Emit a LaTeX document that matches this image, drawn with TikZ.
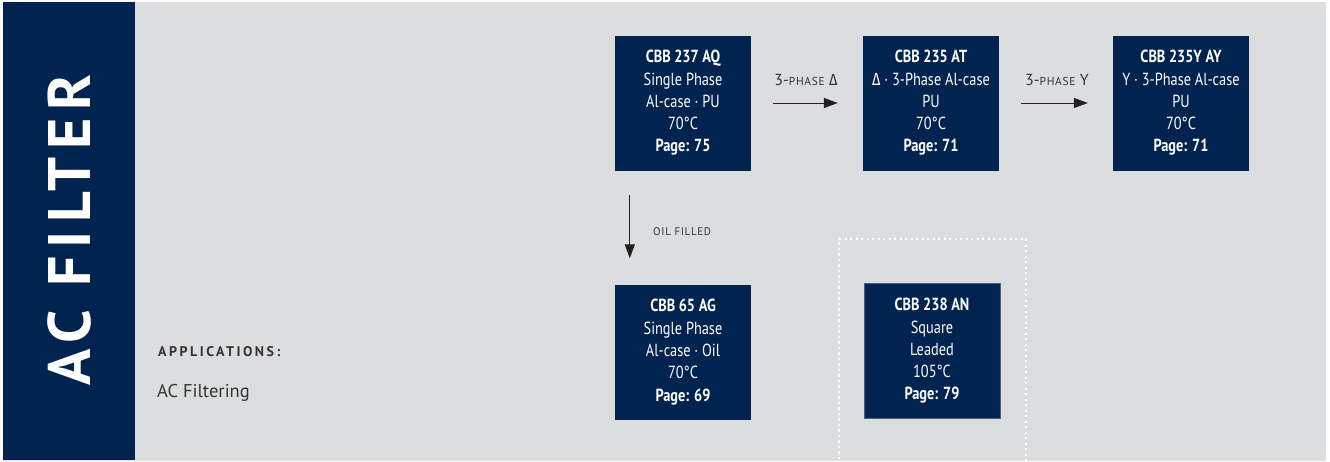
\documentclass[tikz,border=0pt]{standalone}
\usepackage{fontspec}
\setmainfont{PT Sans}
\newfontfamily\narrow[FakeStretch=0.82]{PT Sans}
\newfontfamily\greekfont[FakeStretch=0.82]{Fira Sans}
\newfontfamily\greeklbl[FakeStretch=0.9]{Fira Sans}
\newfontfamily\spaced[LetterSpace=18]{PT Sans}
\newfontfamily\smallspaced[LetterSpace=6]{PT Sans}
\newfontfamily\titlefont[LetterSpace=13.5]{PT Sans}
\usetikzlibrary{arrows.meta}
\definecolor{navy}{RGB}{0,35,79}
\definecolor{bggray}{RGB}{220,221,223}
\definecolor{txtgray}{RGB}{51,51,51}
\definecolor{arrowcol}{RGB}{35,31,32}
\definecolor{edgeblue}{RGB}{70,95,135}
\tikzset{
  box/.style={fill=navy, minimum width=136pt, minimum height=135pt, inner sep=0pt,
    text=white, align=center, font=\narrow\fontsize{17.5}{22.3}\selectfont},
  arr/.style={draw=arrowcol, line width=1pt, -{Triangle[length=14pt,width=10pt]}},
  lbl/.style={text=txtgray, inner sep=0pt},
}
\begin{document}
\begin{tikzpicture}[x=1pt,y=-1pt]
\useasboundingbox (0,0) rectangle (1330,461);
\fill[white] (0,0) rectangle (1330,461);
\fill[bggray] (3,2) rectangle (1326,461);
\fill[navy] (3,2) rectangle (135,460);
\node[text=white, rotate=90, inner sep=0pt, font=\titlefont\bfseries\fontsize{60}{60}\selectfont] (title) at (69,230) {AC FILTER};
\node[lbl, anchor=west, font=\spaced\bfseries\fontsize{14}{16}\selectfont] (app) at (158,352) {APPLICATIONS:};
\node[lbl, anchor=west, font=\fontsize{18.5}{20}\selectfont] (acf) at (157,393) {AC Filtering};

% dotted frame
\draw[white, line width=2.2pt, dash pattern=on 2.2pt off 3.3pt] (839,470) -- (839,239) -- (1026,239) -- (1026,470);

\node[box] (b1) at (683,103) {{\bfseries CBB 237 AQ}\\Single Phase\\Al-case · PU\\70°C\\{\bfseries Page: 75}};
\node[box] (b2) at (931,103) {{\bfseries CBB 235 AT}\\{\greekfont Δ} · 3-Phase Al-case\\PU\\70°C\\{\bfseries Page: 71}};
\node[box] (b3) at (1181,103) {{\bfseries CBB 235Y AY}\\Y · 3-Phase Al-case\\PU\\70°C\\{\bfseries Page: 71}};
\node[box] (b4) at (683,352) {{\bfseries CBB 65 AG}\\Single Phase\\Al-case · Oil\\70°C\\{\bfseries Page: 69}};
\node[box, draw=edgeblue, line width=0.8pt] (b5) at (932,351) {{\bfseries CBB 238 AN}\\Square\\Leaded\\105°C\\{\bfseries Page: 79}};

\draw[arr, shorten <=22pt, shorten >=25pt] (b1.east) -- (b2.west);
\draw[arr, shorten <=22pt, shorten >=25pt] (b2.east) -- (b3.west);
\draw[arr, shorten <=24pt, shorten >=26pt] ([xshift=15pt]b1.south west) -- ([xshift=15pt]b4.north west);

\node[lbl, font=\fontsize{16}{18}\selectfont] (l1) at (806,80) {3-{\smallspaced\fontsize{11.5}{12}\selectfont PHASE} {\greeklbl Δ}};
\node[lbl, font=\fontsize{16}{18}\selectfont] (l2) at (1057,80) {3-{\smallspaced\fontsize{11.5}{12}\selectfont PHASE} Y};
\node[lbl, anchor=west, font=\smallspaced\fontsize{11}{12}\selectfont] (l3) at (653,232) {OIL FILLED};
\end{tikzpicture}
\end{document}
